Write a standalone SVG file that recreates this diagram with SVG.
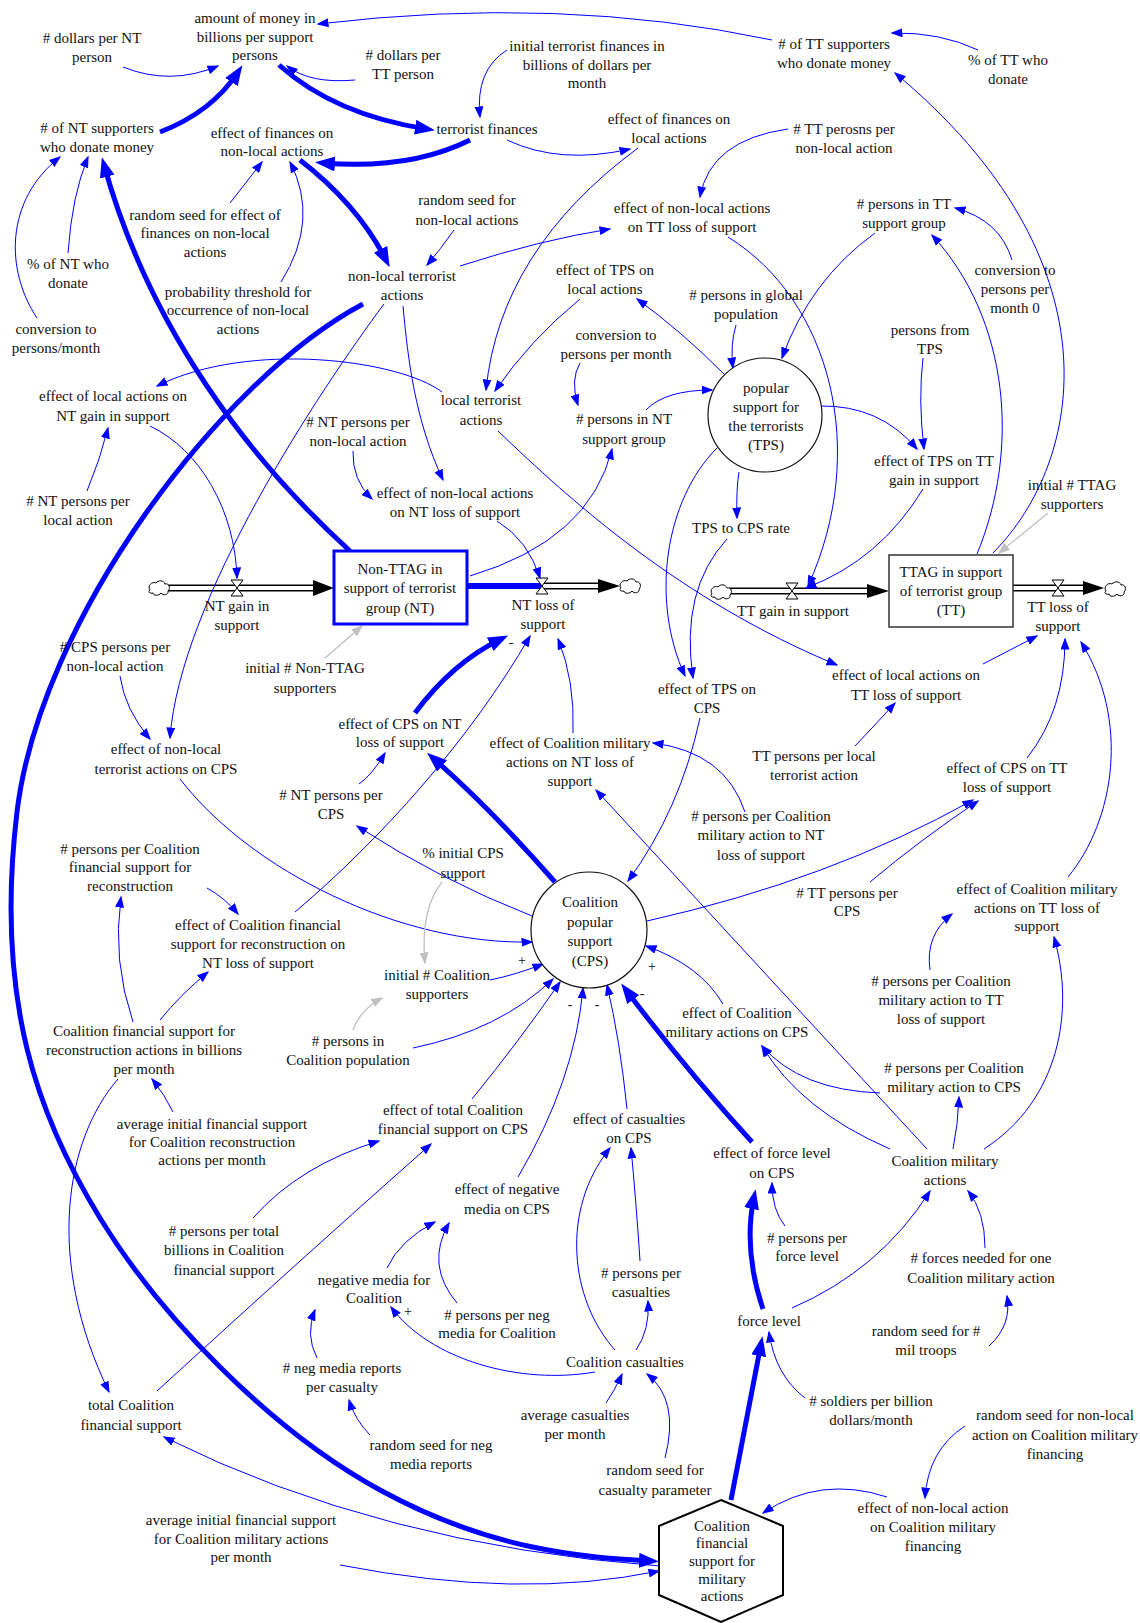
<svg xmlns="http://www.w3.org/2000/svg" width="1140" height="1623" viewBox="0 0 1140 1623">
<style>
text{font-family:"Liberation Serif","Times New Roman",serif;font-size:15px;fill:#111;text-anchor:middle}
.s{font-size:14px}
.c{fill:none;stroke:#0000ff;stroke-width:1;marker-end:url(#a)}
.t{fill:none;stroke:#0000ff;stroke-width:5;marker-end:url(#A)}
.g{fill:none;stroke:#c0c0c0;stroke-width:1.3;marker-end:url(#ag)}
.pb{fill:none;stroke:#000;stroke-width:7}
.pw{fill:none;stroke:#fff;stroke-width:4}
.shape{fill:#fff;stroke:#111;stroke-width:1.2}
</style>
<defs>
<marker id="a" markerUnits="userSpaceOnUse" markerWidth="12" markerHeight="9" refX="10.5" refY="4.5" orient="auto"><path d="M0,0 L12,4.5 L0,9 z" fill="#0000ff"/></marker>
<marker id="A" markerUnits="userSpaceOnUse" markerWidth="20" markerHeight="15" refX="12" refY="7.5" orient="auto"><path d="M0,0 L20,7.5 L0,15 z" fill="#0000ff"/></marker>
<marker id="ag" markerUnits="userSpaceOnUse" markerWidth="12" markerHeight="9" refX="10.5" refY="4.5" orient="auto"><path d="M0,0 L12,4.5 L0,9 z" fill="#c0c0c0"/></marker>
<path id="cloud" d="M-9,2 C-12,-2 -7,-7 -3,-5 C-1,-8 5,-8 6,-4 C10,-5 12,0 9,3 C10,7 4,8 2,5 C0,8 -6,8 -6,5 C-10,6 -11,3 -9,2 Z" fill="#fff" stroke="#000" stroke-width="1"/>
<path id="valve" d="M-6,-8 L6,-8 L-6,8 L6,8 Z" fill="#fff" stroke="#000" stroke-width="1"/>
</defs>

<g id="flows">
<path class="pb" d="M167,588 L314,588"/><path class="pw" d="M167,588 L316,588"/>
<path d="M313,580 L334,588 L313,596 z" fill="#000"/>
<use href="#cloud" x="159" y="588"/>
<use href="#valve" x="237" y="588"/>
<path d="M467,586 L541,586" stroke="#0000ff" stroke-width="6" fill="none"/>
<path class="pb" d="M541,586 L599,586"/><path class="pw" d="M541,586 L600,586"/>
<path d="M598,579 L620,586 L598,593 z" fill="#000"/>
<use href="#cloud" x="630" y="586"/>
<use href="#valve" x="542" y="586"/>
<path class="pb" d="M729,591 L868,591"/><path class="pw" d="M729,591 L869,591"/>
<path d="M867,584 L889,591 L867,598 z" fill="#000"/>
<use href="#cloud" x="721" y="592"/>
<use href="#valve" x="792" y="591"/>
<path class="pb" d="M1013,588 L1084,588"/><path class="pw" d="M1013,588 L1085,588"/>
<path d="M1083,581 L1104,588 L1083,595 z" fill="#000"/>
<use href="#cloud" x="1115" y="589"/>
<use href="#valve" x="1058" y="588"/>
</g>

<g id="connectors">
<path class="t" d="M160,132 Q 212,112 238,72"/>
<path class="t" d="M279,65 Q 335,115 427,129"/>
<path class="t" d="M470,140 Q 410,170 323,163"/>
<path class="t" d="M300,160 Q 358,205 386,260"/>
<path class="t" d="M350,551 C 250,460 150,330 104,165"/>
<path class="t" d="M363,304 C 220,380 40,620 17,812 C -6,1004 40,1120 100,1218 C 160,1316 270,1430 380,1490 C 490,1550 580,1557 651,1561"/>
<path class="t" d="M555,882 Q 490,808 433,758"/>
<path class="t" d="M415,713 Q 452,663 501,639"/>
<path class="t" d="M752,1142 Q 688,1072 626,990"/>
<path class="t" d="M763,1309 Q 743,1250 754,1197"/>
<path class="t" d="M731,1500 L 761,1344"/>

<path class="c" d="M123,67 Q 170,86 218,66"/>
<path class="c" d="M355,80 Q 310,84 287,66"/>
<path class="c" d="M772,40 Q 560,-5 318,24"/>
<path class="c" d="M978,50 Q 940,32 892,33"/>
<path class="c" d="M993,553 C 1085,460 1120,260 895,73"/>
<path class="c" d="M507,50 Q 475,70 480,117"/>
<path class="c" d="M507,140 Q 560,165 630,149"/>
<path class="c" d="M638,148 Q 500,250 486,390"/>
<path class="c" d="M454,230 Q 440,250 427,265"/>
<path class="c" d="M460,266 Q 540,240 610,229"/>
<path class="c" d="M788,129 Q 710,140 700,197"/>
<path class="c" d="M728,237 C 830,300 870,450 808,586"/>
<path class="c" d="M923,489 Q 880,560 806,588"/>
<path class="c" d="M875,233 Q 810,280 782,358"/>
<path class="c" d="M1012,260 Q 1000,220 955,208"/>
<path class="c" d="M977,554 C 1020,450 1010,320 932,235"/>
<path class="c" d="M923,358 Q 918,400 924,449"/>
<path class="c" d="M820,406 Q 880,405 917,449"/>
<path class="c" d="M736,325 Q 730,345 733,368"/>
<path class="c" d="M724,374 Q 680,330 637,299"/>
<path class="c" d="M580,299 Q 530,340 495,391"/>
<path class="c" d="M580,363 Q 570,380 578,405"/>
<path class="c" d="M646,410 Q 665,390 712,390"/>
<path class="c" d="M470,576 Q 590,540 612,449"/>
<path class="c" d="M442,392 C 400,360 250,340 157,386"/>
<path class="c" d="M498,431 C 570,500 680,600 837,665"/>
<path class="c" d="M87,491 Q 100,460 108,428"/>
<path class="c" d="M150,426 C 200,450 235,510 237,578"/>
<path class="c" d="M384,304 C 320,390 180,600 170,738"/>
<path class="c" d="M120,676 Q 125,710 150,739"/>
<path class="c" d="M353,451 Q 352,480 372,499"/>
<path class="c" d="M403,306 C 408,360 415,420 443,480"/>
<path class="c" d="M497,521 Q 528,540 540,578"/>
<path class="g" d="M325,658 L 362,626"/>
<path class="c" d="M295,912 C 380,840 470,740 530,636"/>
<path class="c" d="M573,733 Q 575,680 558,639"/>
<path class="c" d="M745,812 Q 725,752 653,743"/>
<path class="c" d="M927,1149 L 596,790"/>
<path class="c" d="M717,448 C 665,500 650,600 685,676"/>
<path class="c" d="M739,472 Q 736,490 737,518"/>
<path class="c" d="M727,539 Q 680,590 693,678"/>
<path class="c" d="M700,718 Q 680,810 628,881"/>
<path class="c" d="M855,746 Q 875,725 895,703"/>
<path class="c" d="M983,664 Q 1010,650 1037,636"/>
<path class="c" d="M1027,758 Q 1065,710 1065,639"/>
<path class="c" d="M1068,877 C 1115,820 1130,720 1081,642"/>
<path class="c" d="M647,921 Q 830,880 973,800"/>
<path class="c" d="M870,882 Q 920,840 978,801"/>
<path class="c" d="M180,779 C 250,870 400,945 532,942"/>
<path class="c" d="M532,916 Q 440,880 357,826"/>
<path class="c" d="M359,784 Q 372,775 385,753"/>
<path class="g" d="M442,882 Q 420,910 425,963"/>
<path class="c" d="M490,980 Q 515,975 543,964"/>
<path class="g" d="M353,1030 Q 360,1010 382,998"/>
<path class="c" d="M413,1048 Q 500,1030 553,979"/>
<path class="c" d="M472,1099 Q 520,1040 560,982"/>
<path class="c" d="M518,1177 Q 575,1080 583,988"/>
<path class="c" d="M627,1109 Q 620,1040 607,985"/>
<path class="c" d="M723,1004 Q 700,965 646,946"/>
<path class="c" d="M890,1149 Q 800,1110 762,1046"/>
<path class="c" d="M880,1093 Q 800,1090 762,1046"/>
<path class="c" d="M953,1149 Q 958,1125 959,1097"/>
<path class="c" d="M984,1149 C 1060,1100 1075,1010 1054,937"/>
<path class="c" d="M930,970 Q 925,935 952,914"/>
<path class="c" d="M985,1248 Q 985,1212 968,1191"/>
<path class="c" d="M989,1346 Q 1012,1325 1007,1296"/>
<path class="c" d="M792,1308 Q 880,1270 930,1191"/>
<path class="c" d="M785,1226 Q 772,1210 772,1183"/>
<path class="c" d="M805,1398 Q 775,1375 769,1332"/>
<path class="c" d="M965,1426 Q 928,1450 925,1498"/>
<path class="c" d="M887,1497 Q 820,1475 763,1513"/>
<path class="c" d="M340,1565 Q 520,1600 659,1571"/>
<path class="c" d="M660,1566 Q 380,1545 164,1437"/>
<path class="c" d="M118,1079 C 65,1140 45,1260 109,1392"/>
<path class="c" d="M133,1022 Q 112,960 121,897"/>
<path class="c" d="M160,1020 Q 180,995 208,972"/>
<path class="c" d="M207,888 Q 225,898 238,914"/>
<path class="c" d="M173,1112 Q 165,1095 152,1079"/>
<path class="c" d="M253,1218 Q 300,1165 379,1141"/>
<path class="c" d="M157,1391 Q 300,1260 431,1144"/>
<path class="c" d="M387,1268 Q 400,1240 435,1222"/>
<path class="c" d="M457,1303 Q 425,1265 449,1223"/>
<path class="c" d="M317,1358 Q 305,1335 315,1310"/>
<path class="c" d="M370,1435 Q 355,1420 349,1400"/>
<path class="c" d="M595,1372 C 520,1385 430,1360 391,1307"/>
<path class="c" d="M615,1350 C 570,1300 560,1210 610,1148"/>
<path class="c" d="M636,1350 Q 650,1330 648,1301"/>
<path class="c" d="M640,1261 Q 636,1200 631,1148"/>
<path class="c" d="M606,1403 Q 615,1390 622,1374"/>
<path class="c" d="M665,1458 Q 680,1400 647,1374"/>
<path class="c" d="M68,253 Q 72,195 88,157"/>
<path class="c" d="M37,318 C 5,270 5,200 60,157"/>
<path class="c" d="M230,203 L 262,162"/>
<path class="c" d="M281,282 Q 320,220 290,162"/>
<path class="g" d="M1048,513 L 999,553"/>
</g>

<g id="signs">
<text class="s" x="511" y="647">-</text>
<text class="s" x="522" y="965">+</text>
<text class="s" x="652" y="971">+</text>
<text class="s" x="408" y="1316">+</text>
<text class="s" x="570" y="1009">-</text>
<text class="s" x="597" y="1009">-</text>
<text class="s" x="642" y="998">-</text>
</g>

<g id="NT_stock"><rect x="334" y="551" width="133" height="73" fill="#fff" stroke="#0000ff" stroke-width="3"/><text><tspan x="400" y="574">Non-TTAG in</tspan><tspan x="400" y="593">support of terrorist</tspan><tspan x="400" y="613">group (NT)</tspan></text></g>
<g id="TT_stock"><rect x="889" y="555" width="124" height="72" fill="#fff" stroke="#333" stroke-width="1.5"/><text><tspan x="951" y="577">TTAG in support</tspan><tspan x="951" y="596">of terrorist group</tspan><tspan x="951" y="615">(TT)</tspan></text></g>
<g id="TPS"><circle class="shape" cx="765" cy="415" r="57"/><text><tspan x="766" y="393">popular</tspan><tspan x="766" y="412">support for</tspan><tspan x="766" y="431">the terrorists</tspan><tspan x="766" y="450">(TPS)</tspan></text></g>
<g id="CPS"><circle class="shape" cx="589" cy="930" r="58"/><text><tspan x="590" y="907">Coalition</tspan><tspan x="590" y="927">popular</tspan><tspan x="590" y="946">support</tspan><tspan x="590" y="966">(CPS)</tspan></text></g>
<g id="hexagon"><polygon points="721,1500 783,1526 783,1595 721,1622 659,1595 659,1526" fill="#fff" stroke="#000" stroke-width="2"/><text><tspan x="722" y="1531">Coalition</tspan><tspan x="722" y="1548">financial</tspan><tspan x="722" y="1566">support for</tspan><tspan x="722" y="1584">military</tspan><tspan x="722" y="1601">actions</tspan></text></g>

<g id="dollarsNT"><text><tspan x="92" y="43"># dollars per NT</tspan><tspan x="92" y="62">person</tspan></text></g>
<g id="dollarsTT"><text><tspan x="403" y="60"># dollars per</tspan><tspan x="403" y="79">TT person</tspan></text></g>
<g id="amount"><text><tspan x="255" y="23">amount of money in</tspan><tspan x="255" y="42">billions per support</tspan><tspan x="255" y="60">persons</tspan></text></g>
<g id="TTdonors"><text><tspan x="834" y="49"># of TT supporters</tspan><tspan x="834" y="68">who donate money</tspan></text></g>
<g id="pctTT"><text><tspan x="1008" y="65">% of TT who</tspan><tspan x="1008" y="84">donate</tspan></text></g>
<g id="NTdonors"><text><tspan x="97" y="133"># of NT supporters</tspan><tspan x="97" y="152">who donate money</tspan></text></g>
<g id="terrFin"><text x="487" y="134">terrorist finances</text></g>
<g id="initTerrFin"><text><tspan x="587" y="51">initial terrorist finances in</tspan><tspan x="587" y="70">billions of dollars per</tspan><tspan x="587" y="88">month</tspan></text></g>
<g id="effFinLocal"><text><tspan x="669" y="124">effect of finances on</tspan><tspan x="669" y="143">local actions</tspan></text></g>
<g id="TTperNonLocal"><text><tspan x="844" y="134"># TT perosns per</tspan><tspan x="844" y="153">non-local action</tspan></text></g>
<g id="effFinNonLocal"><text><tspan x="272" y="138">effect of finances on</tspan><tspan x="272" y="156">non-local actions</tspan></text></g>
<g id="randomSeedEffFin"><text><tspan x="205" y="220">random seed for effect of</tspan><tspan x="205" y="238">finances on non-local</tspan><tspan x="205" y="257">actions</tspan></text></g>
<g id="randomNonLocal"><text><tspan x="467" y="205">random seed for</tspan><tspan x="467" y="225">non-local actions</tspan></text></g>
<g id="effNonLocalTT"><text><tspan x="692" y="213">effect of non-local actions</tspan><tspan x="692" y="232">on TT loss of support</tspan></text></g>
<g id="personsTT"><text><tspan x="904" y="209"># persons in TT</tspan><tspan x="904" y="228">support group</tspan></text></g>
<g id="pctNT"><text><tspan x="68" y="269">% of NT who</tspan><tspan x="68" y="288">donate</tspan></text></g>
<g id="nonLocalTerr"><text><tspan x="402" y="281">non-local terrorist</tspan><tspan x="402" y="300">actions</tspan></text></g>
<g id="effTPSlocal"><text><tspan x="605" y="275">effect of TPS on</tspan><tspan x="605" y="294">local actions</tspan></text></g>
<g id="globalPop"><text><tspan x="746" y="300"># persons in global</tspan><tspan x="746" y="319">population</tspan></text></g>
<g id="conv0"><text><tspan x="1015" y="275">conversion to</tspan><tspan x="1015" y="294">persons per</tspan><tspan x="1015" y="313">month 0</tspan></text></g>
<g id="probThreshold"><text><tspan x="238" y="297">probability threshold for</tspan><tspan x="238" y="315">occurrence of non-local</tspan><tspan x="238" y="334">actions</tspan></text></g>
<g id="convPM"><text><tspan x="56" y="334">conversion to</tspan><tspan x="56" y="353">persons/month</tspan></text></g>
<g id="personsFromTPS"><text><tspan x="930" y="335">persons from</tspan><tspan x="930" y="354">TPS</tspan></text></g>
<g id="convPPM"><text><tspan x="616" y="340">conversion to</tspan><tspan x="616" y="359">persons per month</tspan></text></g>
<g id="effLocalNT"><text><tspan x="113" y="401">effect of local actions on</tspan><tspan x="113" y="421">NT gain in support</tspan></text></g>
<g id="localTerr"><text><tspan x="481" y="405">local terrorist</tspan><tspan x="481" y="425">actions</tspan></text></g>
<g id="personsNT"><text><tspan x="624" y="424"># persons in NT</tspan><tspan x="624" y="444">support group</tspan></text></g>
<g id="NTperNonLocal"><text><tspan x="358" y="427"># NT persons per</tspan><tspan x="358" y="446">non-local action</tspan></text></g>
<g id="effTPSTT"><text><tspan x="934" y="466">effect of TPS on TT</tspan><tspan x="934" y="485">gain in support</tspan></text></g>
<g id="initTTAG"><text><tspan x="1072" y="490">initial # TTAG</tspan><tspan x="1072" y="509">supporters</tspan></text></g>
<g id="effNonLocalNT"><text><tspan x="455" y="498">effect of non-local actions</tspan><tspan x="455" y="517">on NT loss of support</tspan></text></g>
<g id="NTperLocal"><text><tspan x="78" y="506"># NT persons per</tspan><tspan x="78" y="525">local action</tspan></text></g>
<g id="TPStoCPS"><text x="741" y="533">TPS to CPS rate</text></g>
<g id="NTgain"><text><tspan x="237" y="611">NT gain in</tspan><tspan x="237" y="630">support</tspan></text></g>
<g id="NTloss"><text><tspan x="543" y="610">NT loss of</tspan><tspan x="543" y="629">support</tspan></text></g>
<g id="TTgain"><text x="793" y="616">TT gain in support</text></g>
<g id="TTloss"><text><tspan x="1058" y="612">TT loss of</tspan><tspan x="1058" y="631">support</tspan></text></g>
<g id="CPSperNonLocal"><text><tspan x="115" y="652"># CPS persons per</tspan><tspan x="115" y="671">non-local action</tspan></text></g>
<g id="initNonTTAG"><text><tspan x="305" y="673">initial # Non-TTAG</tspan><tspan x="305" y="693">supporters</tspan></text></g>
<g id="effLocalTT"><text><tspan x="906" y="680">effect of local actions on</tspan><tspan x="906" y="700">TT loss of support</tspan></text></g>
<g id="effTPSCPS"><text><tspan x="707" y="694">effect of TPS on</tspan><tspan x="707" y="713">CPS</tspan></text></g>
<g id="effCPSNT"><text><tspan x="400" y="729">effect of CPS on NT</tspan><tspan x="400" y="747">loss of support</tspan></text></g>
<g id="effCMAonNT"><text><tspan x="570" y="748">effect of Coalition military</tspan><tspan x="570" y="767">actions on NT loss of</tspan><tspan x="570" y="786">support</tspan></text></g>
<g id="effNonLocalCPS"><text><tspan x="166" y="754">effect of non-local</tspan><tspan x="166" y="774">terrorist actions on CPS</tspan></text></g>
<g id="TTperLocal"><text><tspan x="814" y="761">TT persons per local</tspan><tspan x="814" y="780">terrorist action</tspan></text></g>
<g id="effCPSTT"><text><tspan x="1007" y="773">effect of CPS on TT</tspan><tspan x="1007" y="792">loss of support</tspan></text></g>
<g id="NTperCPS"><text><tspan x="331" y="800"># NT persons per</tspan><tspan x="331" y="819">CPS</tspan></text></g>
<g id="personsCMANT"><text><tspan x="761" y="821"># persons per Coalition</tspan><tspan x="761" y="840">military action to NT</tspan><tspan x="761" y="860">loss of support</tspan></text></g>
<g id="personsPerCFSR"><text><tspan x="130" y="854"># persons per Coalition</tspan><tspan x="130" y="872">financial support for</tspan><tspan x="130" y="891">reconstruction</tspan></text></g>
<g id="pctInitCPS"><text><tspan x="463" y="858">% initial CPS</tspan><tspan x="463" y="878">support</tspan></text></g>
<g id="effCMATT"><text><tspan x="1037" y="894">effect of Coalition military</tspan><tspan x="1037" y="913">actions on TT loss of</tspan><tspan x="1037" y="931">support</tspan></text></g>
<g id="TTperCPS"><text><tspan x="847" y="898"># TT persons per</tspan><tspan x="847" y="916">CPS</tspan></text></g>
<g id="effCFSR"><text><tspan x="258" y="930">effect of Coalition financial</tspan><tspan x="258" y="949">support for reconstruction on</tspan><tspan x="258" y="968">NT loss of support</tspan></text></g>
<g id="initCoal"><text><tspan x="437" y="980">initial # Coalition</tspan><tspan x="437" y="999">supporters</tspan></text></g>
<g id="personsCMATT"><text><tspan x="941" y="986"># persons per Coalition</tspan><tspan x="941" y="1005">military action to TT</tspan><tspan x="941" y="1024">loss of support</tspan></text></g>
<g id="effCMAcps"><text><tspan x="737" y="1018">effect of Coalition</tspan><tspan x="737" y="1037">military actions on CPS</tspan></text></g>
<g id="CFSR"><text><tspan x="144" y="1036">Coalition financial support for</tspan><tspan x="144" y="1055">reconstruction actions in billions</tspan><tspan x="144" y="1074">per month</tspan></text></g>
<g id="personsCoalPop"><text><tspan x="348" y="1046"># persons in</tspan><tspan x="348" y="1065">Coalition population</tspan></text></g>
<g id="personsCMACPS"><text><tspan x="954" y="1073"># persons per Coalition</tspan><tspan x="954" y="1092">military action to CPS</tspan></text></g>
<g id="effTotalCoal"><text><tspan x="453" y="1115">effect of total Coalition</tspan><tspan x="453" y="1134">financial support on CPS</tspan></text></g>
<g id="effCasualties"><text><tspan x="629" y="1124">effect of casualties</tspan><tspan x="629" y="1143">on CPS</tspan></text></g>
<g id="avgInitRecon"><text><tspan x="212" y="1129">average initial financial support</tspan><tspan x="212" y="1147">for Coalition reconstruction</tspan><tspan x="212" y="1165">actions per month</tspan></text></g>
<g id="effForce"><text><tspan x="772" y="1158">effect of force level</tspan><tspan x="772" y="1178">on CPS</tspan></text></g>
<g id="CMA"><text><tspan x="945" y="1166">Coalition military</tspan><tspan x="945" y="1185">actions</tspan></text></g>
<g id="effNegMedia"><text><tspan x="507" y="1194">effect of negative</tspan><tspan x="507" y="1214">media on CPS</tspan></text></g>
<g id="personsTotalBillions"><text><tspan x="224" y="1236"># persons per total</tspan><tspan x="224" y="1255">billions in Coalition</tspan><tspan x="224" y="1275">financial support</tspan></text></g>
<g id="personsForce"><text><tspan x="807" y="1243"># persons per</tspan><tspan x="807" y="1261">force level</tspan></text></g>
<g id="forcesNeeded"><text><tspan x="981" y="1263"># forces needed for one</tspan><tspan x="981" y="1283">Coalition military action</tspan></text></g>
<g id="personsCasualties"><text><tspan x="641" y="1278"># persons per</tspan><tspan x="641" y="1297">casualties</tspan></text></g>
<g id="negMedia"><text><tspan x="374" y="1285">negative media for</tspan><tspan x="374" y="1303">Coalition</tspan></text></g>
<g id="personsNegMedia"><text><tspan x="497" y="1320"># persons per neg</tspan><tspan x="497" y="1338">media for Coalition</tspan></text></g>
<g id="forceLevel"><text x="769" y="1326">force level</text></g>
<g id="randomMilTroops"><text><tspan x="926" y="1336">random seed for #</tspan><tspan x="926" y="1355">mil troops</tspan></text></g>
<g id="coalCasualties"><text x="625" y="1367">Coalition casualties</text></g>
<g id="negMediaReports"><text><tspan x="342" y="1373"># neg media reports</tspan><tspan x="342" y="1392">per casualty</tspan></text></g>
<g id="soldiers"><text><tspan x="871" y="1406"># soldiers per billion</tspan><tspan x="871" y="1425">dollars/month</tspan></text></g>
<g id="totalCoal"><text><tspan x="131" y="1410">total Coalition</tspan><tspan x="131" y="1430">financial support</tspan></text></g>
<g id="avgCasualties"><text><tspan x="575" y="1420">average casualties</tspan><tspan x="575" y="1439">per month</tspan></text></g>
<g id="randomNonLocalFin"><text><tspan x="1055" y="1420">random seed for non-local</tspan><tspan x="1055" y="1440">action on Coalition military</tspan><tspan x="1055" y="1459">financing</tspan></text></g>
<g id="randomNegMedia"><text><tspan x="431" y="1450">random seed for neg</tspan><tspan x="431" y="1469">media reports</tspan></text></g>
<g id="randomCasualty"><text><tspan x="655" y="1475">random seed for</tspan><tspan x="655" y="1495">casualty parameter</tspan></text></g>
<g id="effNonLocalFin"><text><tspan x="933" y="1513">effect of non-local action</tspan><tspan x="933" y="1532">on Coalition military</tspan><tspan x="933" y="1551">financing</tspan></text></g>
<g id="avgInitMil"><text><tspan x="241" y="1525">average initial financial support</tspan><tspan x="241" y="1544">for Coalition military actions</tspan><tspan x="241" y="1562">per month</tspan></text></g>
</svg>
